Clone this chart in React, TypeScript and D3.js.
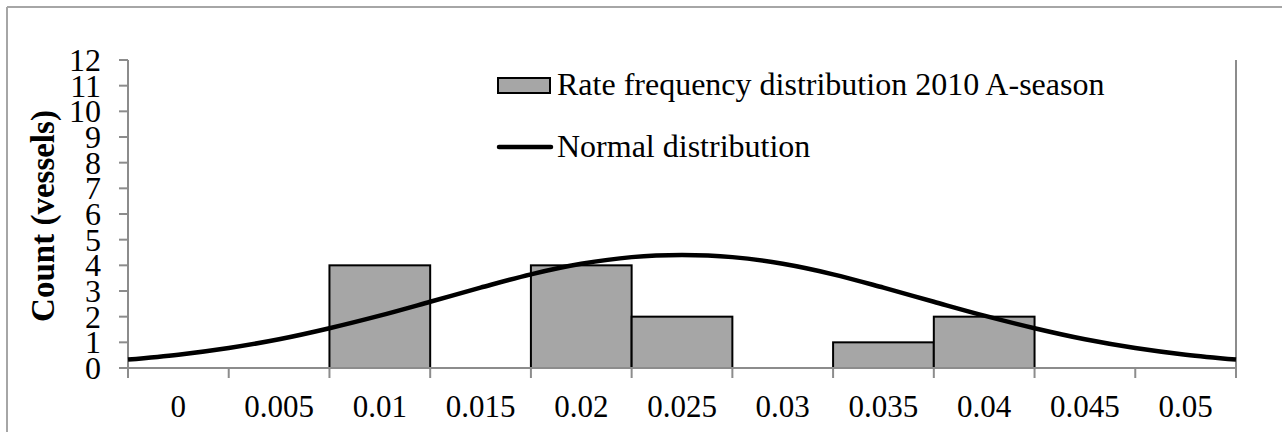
import React from "react";
import * as d3 from "d3";

const categories = ["0", "0.005", "0.01", "0.015", "0.02", "0.025", "0.03", "0.035", "0.04", "0.045", "0.05"];
const counts = [0, 0, 4, 0, 4, 2, 0, 1, 2, 0, 0];
const yTicks = [0, 1, 2, 3, 4, 5, 6, 7, 8, 9, 10, 11, 12];
const curveX = [-0.0025, 0, 0.0025, 0.005, 0.0075, 0.01, 0.0125, 0.015, 0.0175, 0.02, 0.0225, 0.025, 0.0275, 0.03, 0.0325, 0.035, 0.0375, 0.04, 0.0425, 0.045, 0.0475, 0.05, 0.0525];
const curveY = [0.33, 0.52, 0.78, 1.12, 1.55, 2.04, 2.58, 3.13, 3.65, 4.06, 4.32, 4.40, 4.32, 4.06, 3.65, 3.13, 2.58, 2.04, 1.55, 1.12, 0.78, 0.52, 0.33];
const legendLabels = ["Rate frequency distribution 2010 A-season", "Normal distribution"];

const W = 1282;
const H = 432;
const FONT = "'Liberation Serif', 'Times New Roman', serif";

export default function App() {
  const left = 128;
  const right = 1236;
  const top = 60;
  const bottom = 368;

  const x = d3.scaleBand<string>().domain(categories).range([left, right]).padding(0);
  const y = d3.scaleLinear().domain([0, 12]).range([bottom, top]);
  const bw = x.bandwidth();
  const xv = d3
    .scaleLinear()
    .domain([0, 0.05])
    .range([(x("0") as number) + bw / 2, (x("0.05") as number) + bw / 2]);

  const line = d3
    .line<number>()
    .x((_, i) => xv(curveX[i]))
    .y((d) => y(d))
    .curve(d3.curveCatmullRom);

  const boundaries = categories.map((c) => x(c) as number).concat([right]);
  const axisColor = "#8c8c8c";

  return (
    <svg width={W} height={H} style={{ position: "absolute", left: 0, top: 0, background: "#fff" }} fontFamily={FONT}>
      <rect x={0} y={0} width={W} height={H} fill="#fff" />
      {/* outer frame */}
      <line x1={7} y1={7} x2={W} y2={7} stroke="#a6a6a6" strokeWidth={2} />
      <line x1={7} y1={7} x2={7} y2={H} stroke="#a6a6a6" strokeWidth={2} />

      {/* bars */}
      {categories.map((c, i) =>
        counts[i] > 0 ? (
          <rect
            key={c}
            x={x(c)}
            y={y(counts[i])}
            width={bw}
            height={y(0) - y(counts[i])}
            fill="#a6a6a6"
            stroke="#000"
            strokeWidth={2}
          />
        ) : null
      )}

      {/* axes */}
      <line x1={left} y1={top} x2={left} y2={bottom} stroke={axisColor} strokeWidth={2} />
      <line x1={right} y1={top} x2={right} y2={bottom} stroke={axisColor} strokeWidth={2} />
      <line x1={left - 9} y1={bottom} x2={right} y2={bottom} stroke={axisColor} strokeWidth={2} />
      {yTicks.map((t) => (
        <g key={t}>
          <line x1={left - 9} x2={left} y1={y(t)} y2={y(t)} stroke={axisColor} strokeWidth={2} />
          <text x={101} y={y(t) + 11} textAnchor="end" fontSize={32} fill="#000">
            {t}
          </text>
        </g>
      ))}
      {boundaries.map((b, i) => (
        <line key={i} x1={b} x2={b} y1={bottom} y2={bottom + 10} stroke={axisColor} strokeWidth={2} />
      ))}
      {categories.map((c) => (
        <text key={c} x={(x(c) as number) + bw / 2} y={417} textAnchor="middle" fontSize={31} fill="#000">
          {c}
        </text>
      ))}

      {/* normal curve */}
      <path d={line(curveY) || ""} fill="none" stroke="#000" strokeWidth={4.5} />

      {/* y title */}
      <text
        transform="translate(54,216) rotate(-90)"
        textAnchor="middle"
        fontSize={33}
        fontWeight="bold"
        fill="#000"
      >
        Count (vessels)
      </text>

      {/* legend */}
      <rect x={498} y={78} width={52} height={15} fill="#a6a6a6" stroke="#000" strokeWidth={2} />
      <text x={557} y={95} fontSize={32} fill="#000">
        {legendLabels[0]}
      </text>
      <line x1={499} x2={551} y1={147} y2={147} stroke="#000" strokeWidth={4.5} strokeLinecap="round" />
      <text x={557} y={157} fontSize={32} fill="#000">
        {legendLabels[1]}
      </text>
    </svg>
  );
}
